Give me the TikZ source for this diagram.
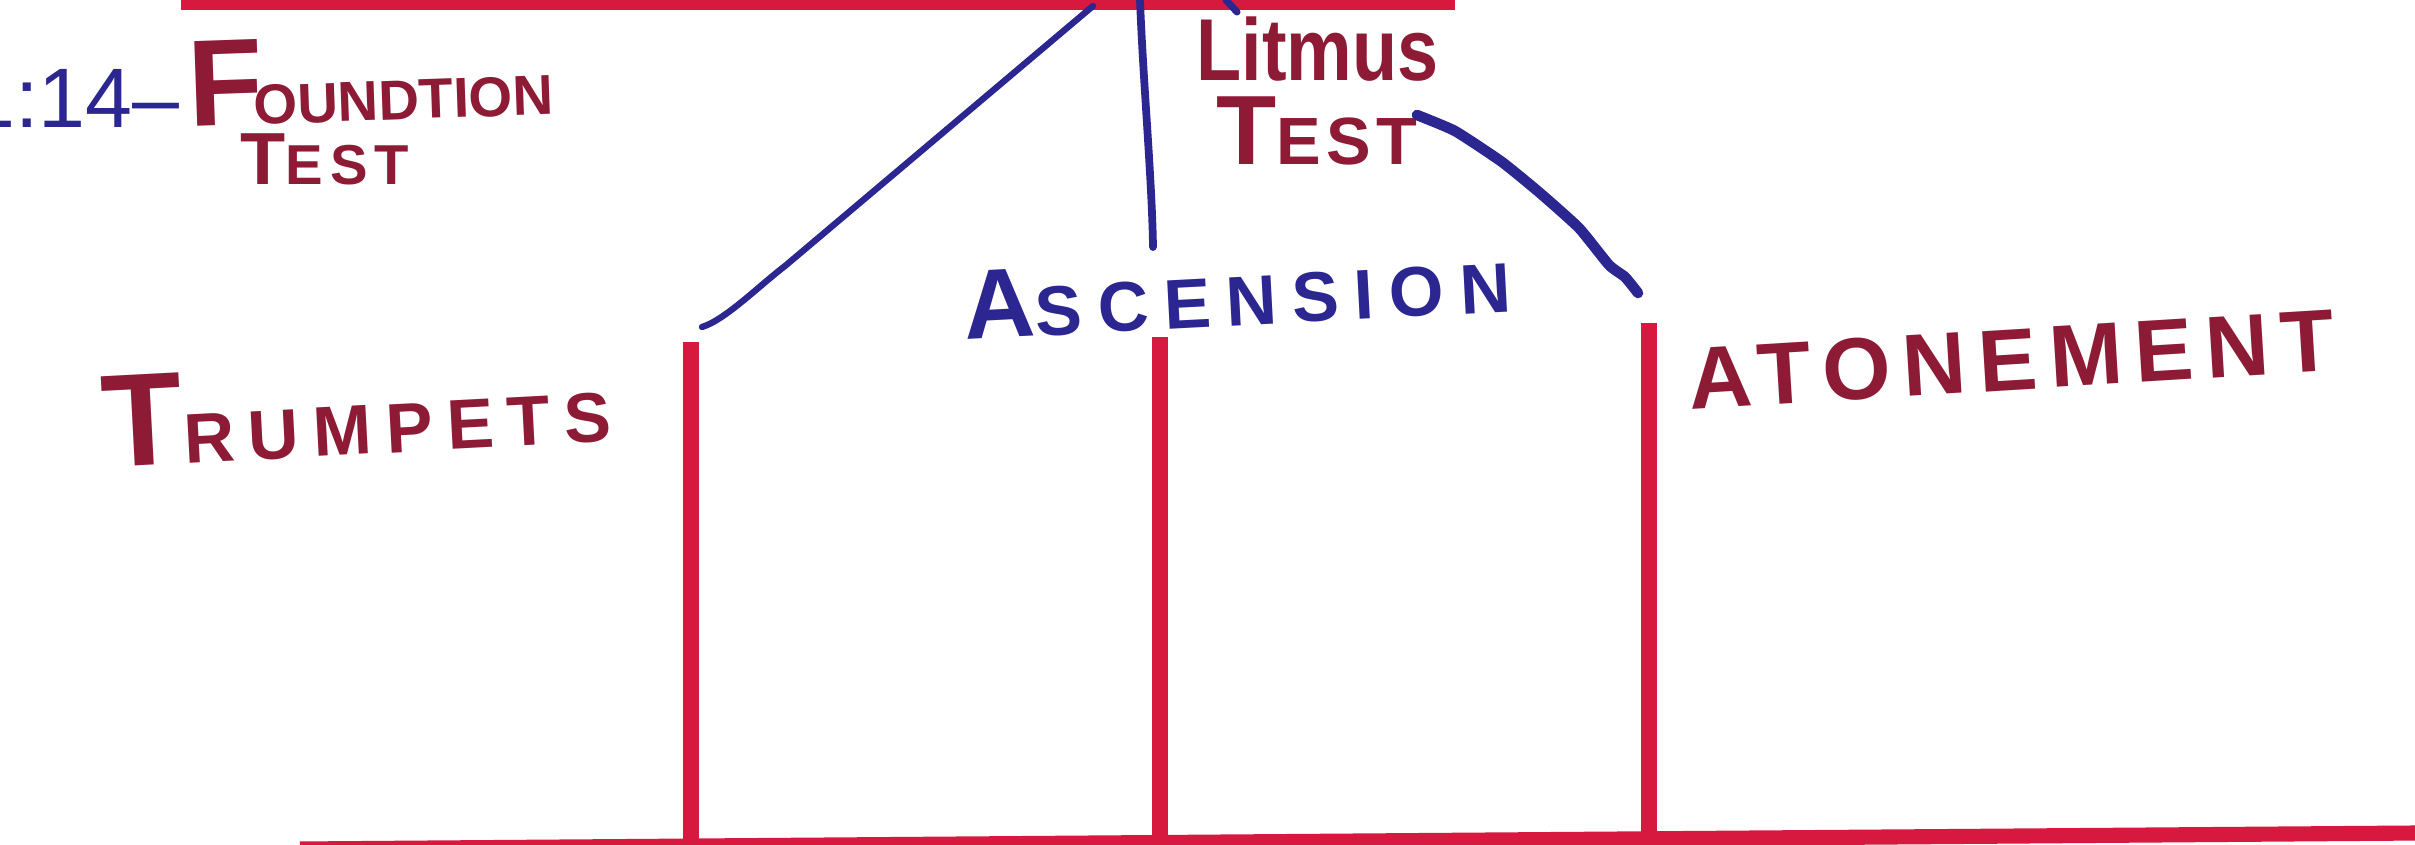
\documentclass[tikz,border=0pt]{standalone}
\usepackage{fontspec}
\usepackage{graphicx}
\newfontfamily\hand{Liberation Sans}
\definecolor{linered}{HTML}{D7193F}
\definecolor{inkred}{HTML}{8E1B35}
\definecolor{inkblue}{HTML}{2B2690}
% #1 big size, #2 small size, #3 big letters, #4 small letters, #5 letter space of small part
\newcommand\hwtext[5]{{\fontsize{#1}{#1}\selectfont #3}{\fontsize{#2}{#2}\selectfont\addfontfeature{LetterSpace=#5}#4}}
\tikzset{
  redline/.style={draw=linered, line width=4.3pt},
  blueink/.style={draw=inkblue, line width=1.8pt, line cap=round, line join=round},
  lbl/.style={inner sep=0pt, anchor=base west, font=\hand\bfseries},
}
\begin{document}
\begin{tikzpicture}[x=0.01cm,y=-0.01cm]
\useasboundingbox (0,0) rectangle (2415,844);
\fill[white] (0,0) rectangle (2415,844);
% red frame lines
\coordinate (topL) at (181,2);
\coordinate (topR) at (1455,2);
\draw[redline, line width=4.6pt] (topL) -- (topR);
\coordinate (botL) at (300,849);
\coordinate (botR) at (2415,833);
\draw[redline] (botL) -- (botR);
\coordinate (v1t) at (691,342); \coordinate (v1b) at (691,848);
\coordinate (v2t) at (1160,337); \coordinate (v2b) at (1160,845);
\coordinate (v3t) at (1649,323); \coordinate (v3b) at (1649,842);
\draw[redline] (v1t) -- (v1b);
\draw[redline] (v2t) -- (v2b);
\draw[redline] (v3t) -- (v3b);
% texts
\node[lbl, anchor=base east, text=inkblue, font=\hand] (ref) at (180,127)
  {\fontsize{24pt}{24pt}\selectfont 1:14–};
\node[lbl, text=inkred, rotate=2] (found) at (189,127)
  {{\fontsize{35pt}{35pt}\selectfont F}\kern-3pt{\fontsize{16pt}{16pt}\selectfont OUNDTION}};
\node[lbl, text=inkred] (ftest) at (240,184) {\hwtext{21pt}{16pt}{T}{EST}{12}};
\node[lbl, text=inkred] (litmus) at (1196,80)
  {\scalebox{0.84}[1]{\fontsize{25pt}{25pt}\selectfont Litmus}};
\node[lbl, text=inkred] (ltest) at (1216,164) {\hwtext{28pt}{19pt}{T}{EST}{8}};
\node[lbl, text=inkblue, rotate=3] (asc) at (965,340) {\hwtext{28pt}{20pt}{A}{SCENSION}{22}};
\node[lbl, text=inkred, rotate=3] (trump) at (104,468) {\hwtext{37.5pt}{20pt}{T}{RUMPETS}{20}};
\node[lbl, text=inkred, rotate=3.5] (aton) at (1690,410)
  {\fontsize{25pt}{25pt}\selectfont\addfontfeature{LetterSpace=14}ATONEMENT};
% blue connectors
\coordinate (a1) at (702,327); \coordinate (b1) at (1093,6);
\draw[blueink] (a1) .. controls (725,320) and (760,285) .. (785,266) -- (b1);
\coordinate (t2) at (1140,0); \coordinate (a2) at (1153,247);
\draw[blueink, line width=2.2pt] (t2) .. controls (1143,80) and (1152,180) .. (a2);
\coordinate (c3) at (1417,115); \coordinate (d3) at (1638,293);
\draw[blueink, line width=3pt] plot[smooth, tension=0.3] coordinates
  {(c3) (1455,131) (1502,162) (1540,193) (1579,228) (1609,265) (1625,277) (d3)};
\coordinate (k1) at (1226,0); \coordinate (k2) at (1237,12);
\draw[blueink, line width=2pt] (k1) -- (k2);
\end{tikzpicture}
\end{document}
